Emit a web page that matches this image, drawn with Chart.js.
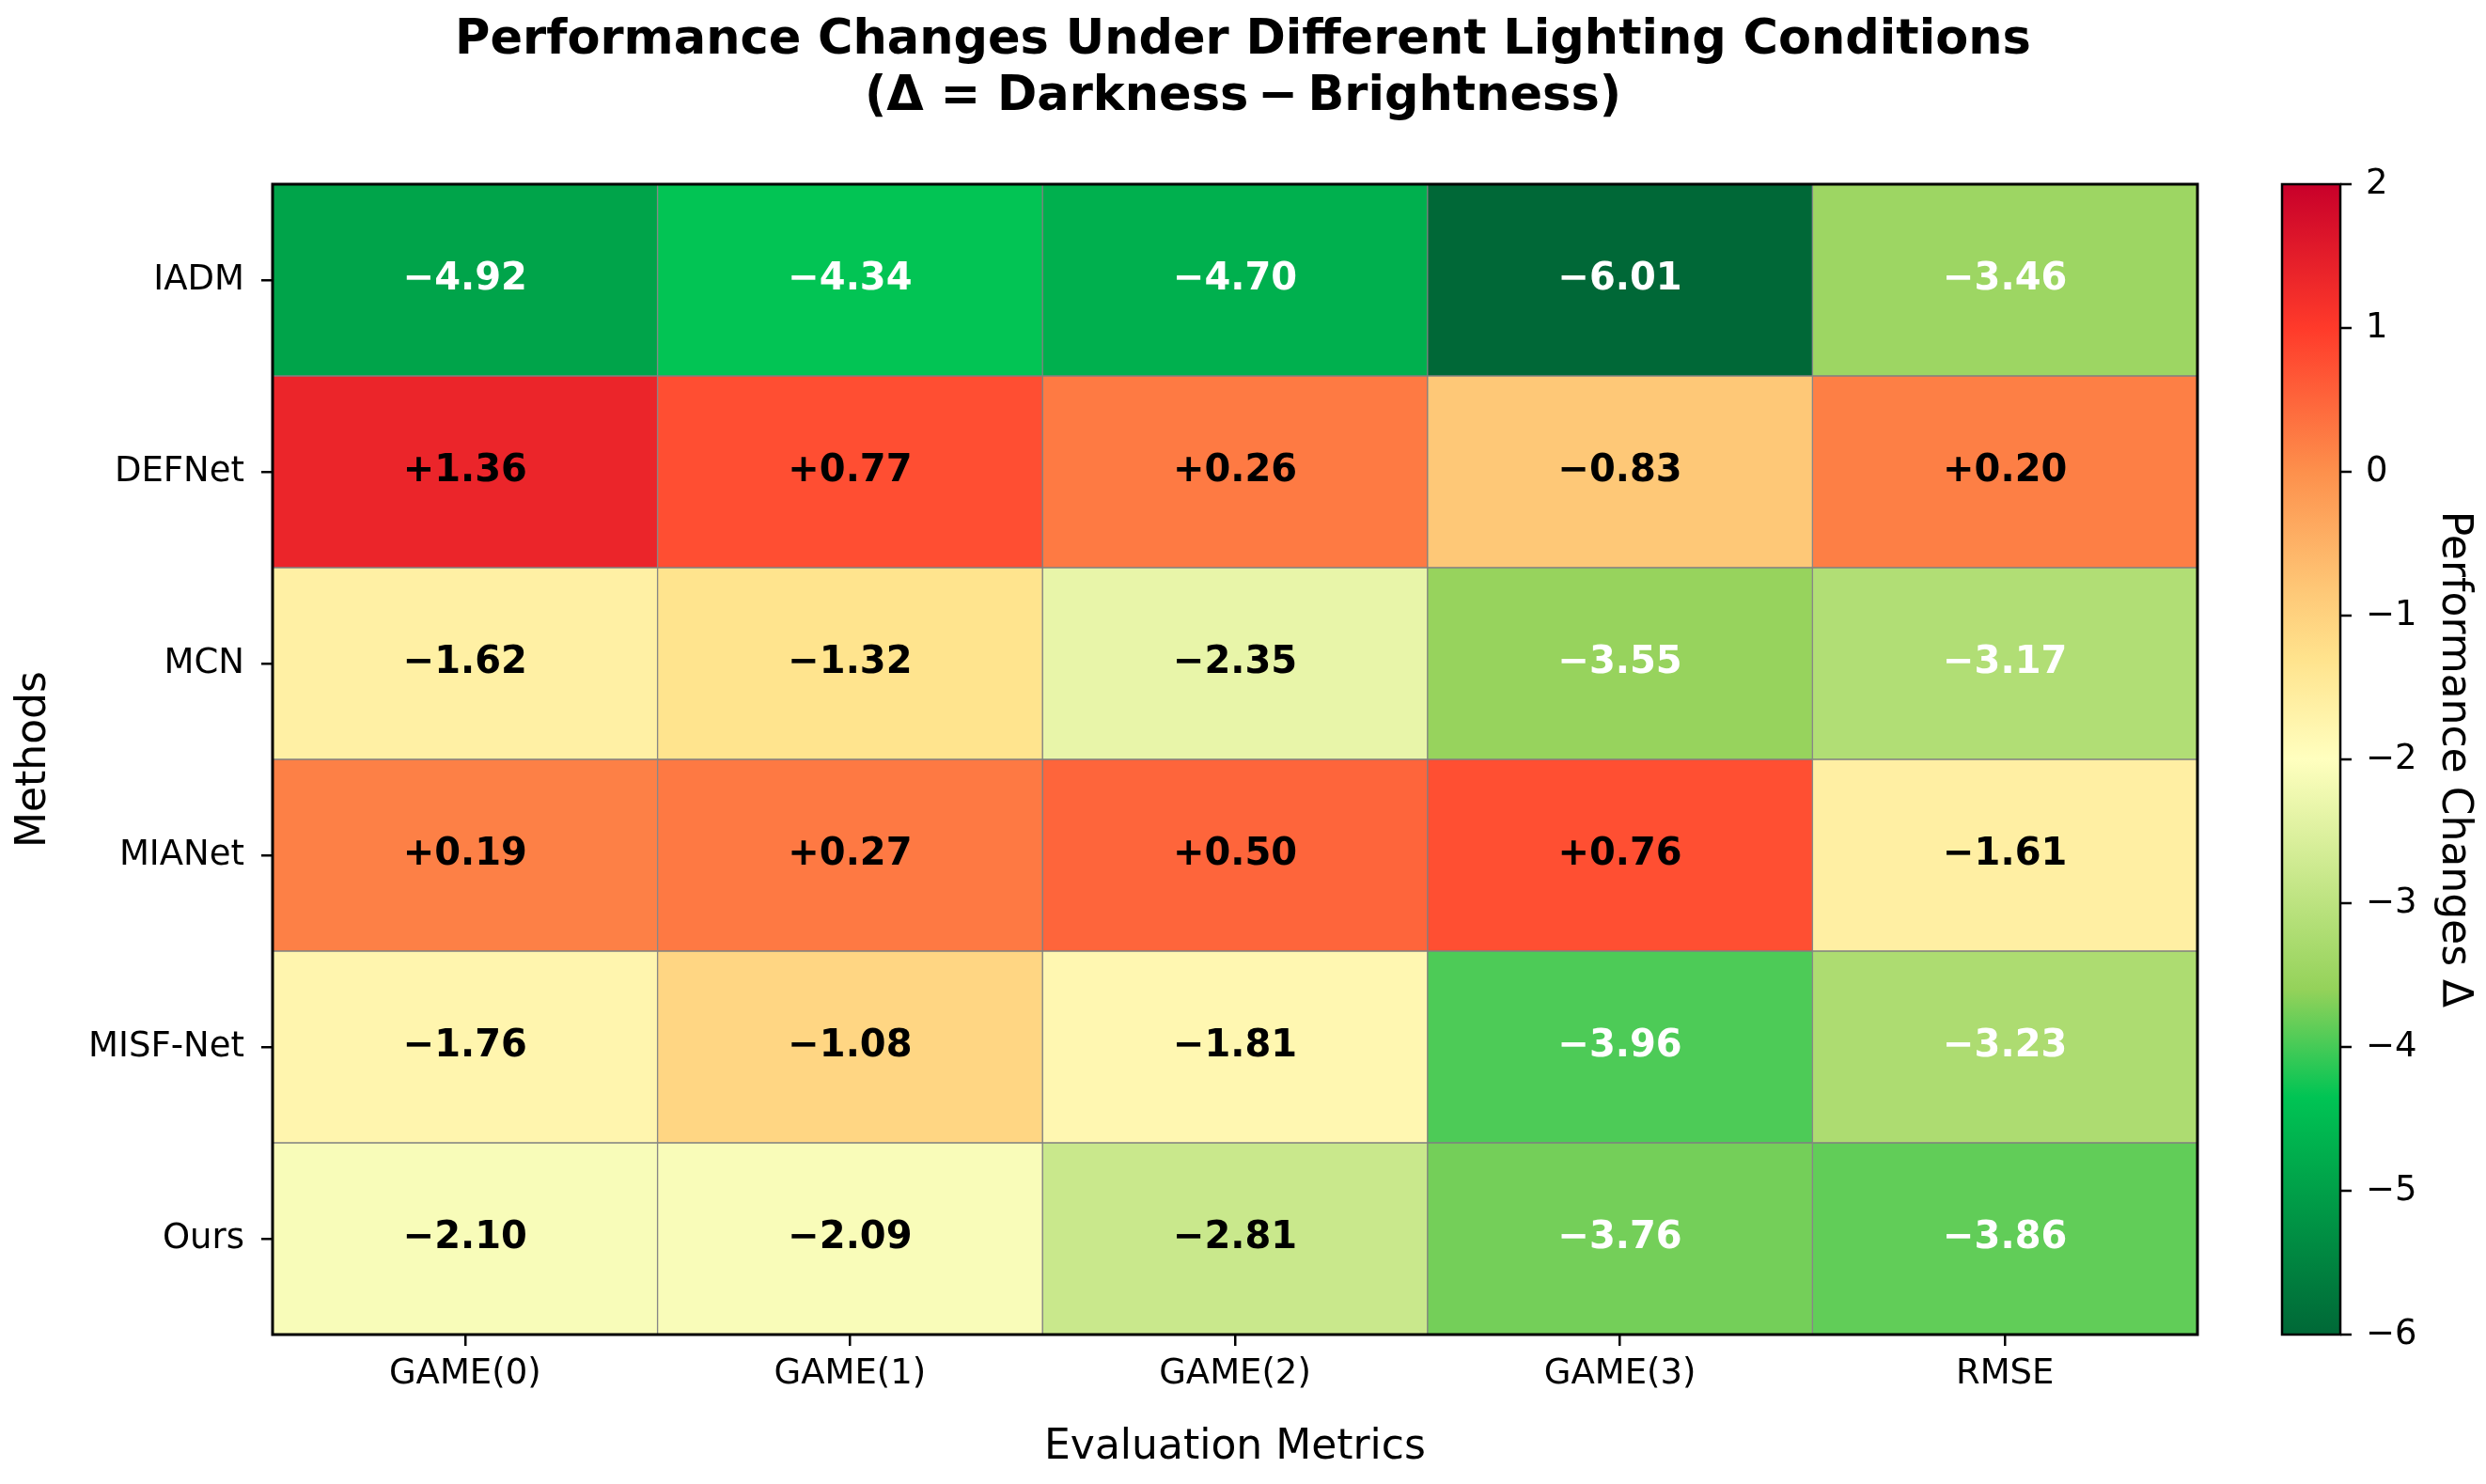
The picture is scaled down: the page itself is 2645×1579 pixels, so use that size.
<!DOCTYPE html>
<html>
<head>
<meta charset="utf-8">
<script src="https://cdn.jsdelivr.net/npm/chart.js@4.4.1/dist/chart.umd.min.js"></script>
<style>
  html, body { margin: 0; padding: 0; background: #fff; }
  #wrap { width: 2645px; height: 1579px; }
</style>
</head>
<body>
<div id="wrap"><canvas id="heat" width="2645" height="1579"></canvas></div>
<script>
// rows of the heatmap (top to bottom) and columns (left to right)
var methods = ['IADM', 'DEFNet', 'MCN', 'MIANet', 'MISF-Net', 'Ours'];
var metrics = ['GAME(0)', 'GAME(1)', 'GAME(2)', 'GAME(3)', 'RMSE'];

// delta per method, in metric order
var iadm    = [-4.92, -4.34, -4.70, -6.01, -3.46];
var defnet  = [ 1.36,  0.77,  0.26, -0.83,  0.20];
var mcn     = [-1.62, -1.32, -2.35, -3.55, -3.17];
var mianet  = [ 0.19,  0.27,  0.50,  0.76, -1.61];
var misfnet = [-1.76, -1.08, -1.81, -3.96, -3.23];
var ours    = [-2.10, -2.09, -2.81, -3.76, -3.86];
var rows = [iadm, defnet, mcn, mianet, misfnet, ours];

// colorbar ticks
var cbTicks = [2, 1, 0, -1, -2, -3, -4, -5, -6];
var vmin = -6, vmax = 2;

var FONT = 'DejaVu Sans';

// colour map (value -> colour), green = better
var cmapStops = [
    [-6,    '#006837'],
    [-4.35, '#00c454'],
    [-3.6,  '#94d25a'],
    [-2,    '#ffffbf'],
    [-1.3,  '#ffe38d'],
    [-0.83, '#fec877'],
    [0,     '#fd904c'],
    [1,     '#ff3a2a'],
    [2,     '#c8002a']
];

function hexRgb(h) {
    return [parseInt(h.substr(1, 2), 16), parseInt(h.substr(3, 2), 16), parseInt(h.substr(5, 2), 16)];
}

function cmap(v) {
    if (v <= cmapStops[0][0]) return cmapStops[0][1];
    var last = cmapStops[cmapStops.length - 1];
    if (v >= last[0]) return last[1];
    for (var k = 0; k < cmapStops.length - 1; k++) {
        var a = cmapStops[k], b = cmapStops[k + 1];
        if (v >= a[0] && v <= b[0]) {
            var t = (v - a[0]) / (b[0] - a[0]);
            var ca = hexRgb(a[1]), cb = hexRgb(b[1]);
            var c = ca.map(function (x, n) { return Math.round(x + (cb[n] - x) * t); });
            return 'rgb(' + c.join(',') + ')';
        }
    }
}

function fmtCell(v) {
    return (v > 0 ? '+' : '\u2212') + Math.abs(v).toFixed(2);
}

function fmtTick(v) {
    return v < 0 ? '\u2212' + Math.abs(v) : String(v);
}

// one dataset per column, each bar spans one metric slot
var datasets = metrics.map(function (m, j) {
    return {
        label: m,
        data: rows.map(function () { return [j, j + 1]; }),
        backgroundColor: rows.map(function (r) { return cmap(r[j]); }),
        borderColor: '#808080',
        borderWidth: 1,
        borderSkipped: false,
        grouped: false,
        barPercentage: 1,
        categoryPercentage: 1
    };
});

// value labels inside the cells
var cellText = {
    id: 'cellText',
    afterDatasetsDraw: function (chart) {
        var ctx = chart.ctx;
        ctx.save();
        ctx.font = 'bold 40px "' + FONT + '"';
        ctx.textAlign = 'center';
        ctx.textBaseline = 'middle';
        metrics.forEach(function (m, j) {
            chart.getDatasetMeta(j).data.forEach(function (el, i) {
                var v = rows[i][j];
                var p = el.getCenterPoint();
                ctx.fillStyle = v < -3 ? '#ffffff' : '#000000';
                ctx.fillText(fmtCell(v), p.x, p.y);
            });
        });
        // frame round the plot
        var a = chart.chartArea;
        ctx.strokeStyle = '#000';
        ctx.lineWidth = 3;
        ctx.strokeRect(a.left, a.top, a.right - a.left, a.bottom - a.top);
        ctx.restore();
    }
};

// colorbar drawn next to its own scale
var colorBar = {
    id: 'colorBar',
    afterDraw: function (chart) {
        var s = chart.scales.cb;
        var ctx = chart.ctx;
        var x0 = s.left + 90, w = 62;
        var top = s.getPixelForValue(vmax), bot = s.getPixelForValue(vmin);
        var g = ctx.createLinearGradient(0, bot, 0, top);
        cmapStops.forEach(function (st) {
            g.addColorStop((st[0] - vmin) / (vmax - vmin), st[1]);
        });
        ctx.save();
        ctx.fillStyle = g;
        ctx.fillRect(x0, top, w, bot - top);
        ctx.strokeStyle = '#000';
        ctx.lineWidth = 2.5;
        ctx.strokeRect(x0, top, w, bot - top);
        cbTicks.forEach(function (v) {
            var y = s.getPixelForValue(v);
            ctx.beginPath();
            ctx.moveTo(x0 + w, y);
            ctx.lineTo(x0 + w + 12, y);
            ctx.stroke();
        });
        ctx.restore();
    }
};

new Chart(document.getElementById('heat'), {
    type: 'bar',
    data: {
        labels: methods,
        datasets: datasets
    },
    options: {
        indexAxis: 'y',
        responsive: false,
        devicePixelRatio: 1,
        animation: false,
        layout: { padding: 0 },
        plugins: {
            legend: { display: false },
            tooltip: { enabled: false },
            title: {
                display: true,
                text: ['Performance Changes Under Different Lighting Conditions', '(\u0394 = Darkness\u2009\u2212\u2009Brightness)'],
                color: '#000',
                font: { family: FONT, size: 51, weight: 'bold', lineHeight: '60px' },
                padding: { top: 14, bottom: 62 }
            }
        },
        scales: {
            x: {
                type: 'linear',
                min: 0,
                max: 5,
                afterBuildTicks: function (s) {
                    s.ticks = metrics.map(function (m, i) { return { value: i + 0.5 }; });
                },
                afterFit: function (s) { s.height = 159; },
                ticks: {
                    callback: function (v, i) { return metrics[i]; },
                    autoSkip: false,
                    maxRotation: 0,
                    padding: 8,
                    color: '#000',
                    font: { family: FONT, size: 37 }
                },
                grid: { display: true, drawOnChartArea: false, drawTicks: true, tickLength: 12, color: '#000', lineWidth: 2.5 },
                border: { display: false },
                title: {
                    display: true,
                    text: 'Evaluation Metrics',
                    color: '#000',
                    font: { family: FONT, size: 44 },
                    padding: { top: 0, bottom: 12 }
                }
            },
            y: {
                type: 'category',
                afterFit: function (s) { s.width = 290; },
                ticks: {
                    padding: 18,
                    color: '#000',
                    font: { family: FONT, size: 37 }
                },
                grid: { display: true, offset: false, drawOnChartArea: false, drawTicks: true, tickLength: 12, color: '#000', lineWidth: 2.5 },
                border: { display: false },
                title: {
                    display: true,
                    text: 'Methods',
                    color: '#000',
                    font: { family: FONT, size: 44 },
                    padding: { top: 10, bottom: 0 }
                }
            },
            cb: {
                type: 'linear',
                axis: 'y',
                position: 'right',
                offset: false,
                min: vmin,
                max: vmax,
                afterBuildTicks: function (s) {
                    s.ticks = cbTicks.map(function (v) { return { value: v }; });
                },
                afterFit: function (s) { s.width = 307; },
                ticks: {
                    callback: function (v) { return fmtTick(v); },
                    padding: 12,
                    color: '#000',
                    font: { family: FONT, size: 37 }
                },
                // tick marks are drawn by the colorBar plugin; tickLength only reserves room
                grid: { display: false, offset: false, drawTicks: true, tickLength: 167 },
                border: { display: false },
                title: {
                    display: true,
                    text: 'Performance Changes \u0394',
                    color: '#000',
                    font: { family: FONT, size: 44 },
                    padding: { top: 8, bottom: 0 }
                }
            }
        }
    },
    plugins: [cellText, colorBar]
});
</script>
</body>
</html>
